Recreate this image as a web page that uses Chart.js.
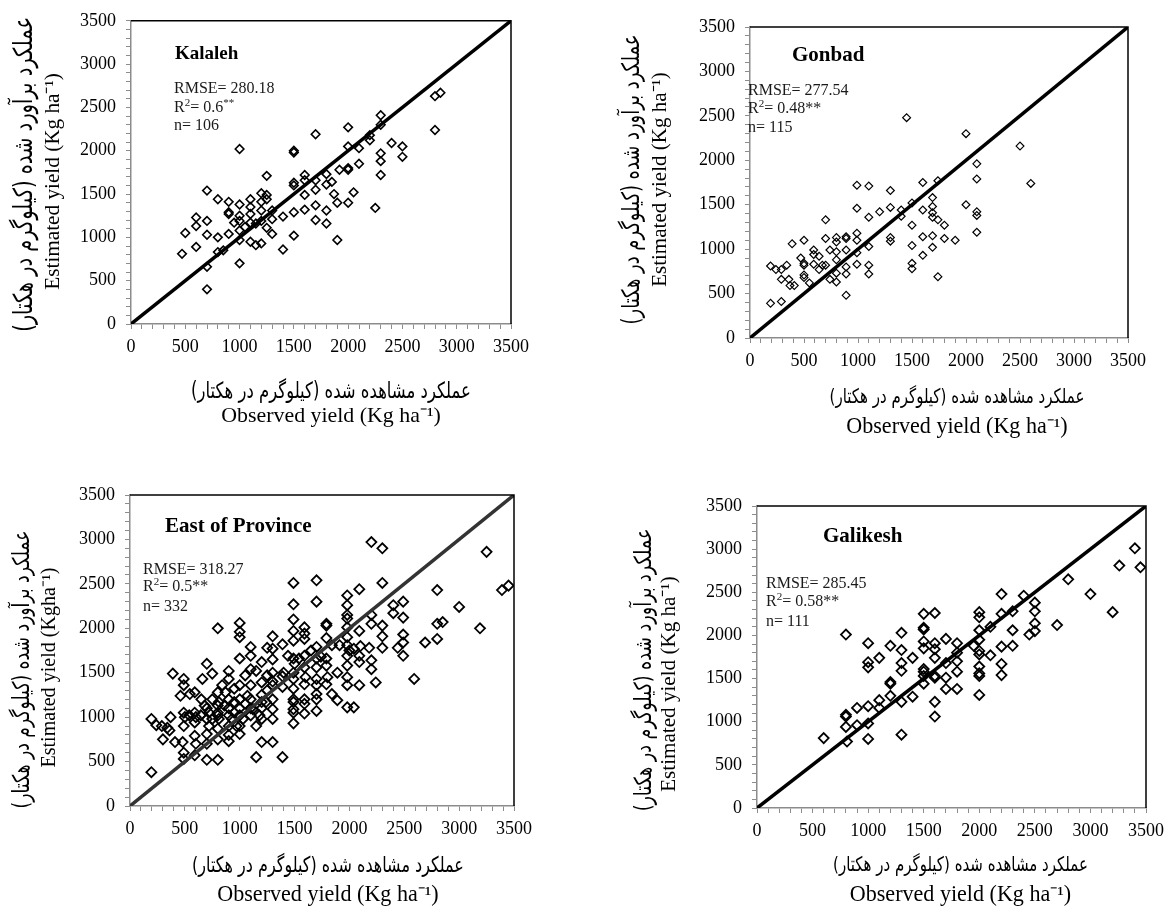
<!DOCTYPE html>
<html>
<head>
<meta charset="utf-8">
<title>Observed vs estimated yield</title>
<script src="https://cdn.jsdelivr.net/npm/chart.js@4.4.1/dist/chart.umd.min.js"></script>
<style>
  html, body { margin: 0; padding: 0; background: #fff; overflow: hidden; }
  body { width: 1165px; height: 907px; position: relative; }
  canvas { position: absolute; }
</style>
</head>
<body>
<canvas id="kalalehChart" width="560" height="440" style="left:0;top:0"></canvas>
<canvas id="gonbadChart" width="600" height="440" style="left:583px;top:0"></canvas>
<canvas id="eastChart" width="560" height="457" style="left:0;top:450px"></canvas>
<canvas id="galikeshChart" width="600" height="457" style="left:583px;top:450px"></canvas>
<script>
// Axis range and labelled tick step (kg/ha)
const axisMax = 3500;
const minorStep = 100;
const labelStep = 500;

// Kalaleh
const kalalehObs = [470, 500, 600, 600, 600, 700, 700, 700, 700, 700, 800, 800, 800, 850, 900, 900, 900, 900, 950,
  1000, 1000, 1000, 1000, 1000, 1000, 1000, 1050, 1100, 1100, 1100, 1100, 1100, 1150, 1150, 1200, 1200, 1200, 1200, 1200,
  1250, 1250, 1250, 1250, 1300, 1300, 1300, 1400, 1400, 1500, 1500, 1500, 1500, 1500, 1500, 1600, 1600, 1600, 1600,
  1700, 1700, 1700, 1700, 1700, 1800, 1800, 1800, 1800, 1850, 1870, 1900, 1900, 1920, 2000, 2000, 2000, 2000, 2000,
  2050, 2100, 2100, 2200, 2200, 2250, 2300, 2300, 2300, 2300, 2300, 2400, 2500, 2500, 2800, 2850, 2800];
const kalalehEst = [810, 1050, 890, 1230, 1130, 1540, 1190, 1030, 660, 400, 1440, 1000, 830, 850, 1410, 1290, 1270, 1040, 1170,
  2020, 1380, 1250, 1190, 1080, 970, 700, 1120, 1440, 1350, 1270, 1170, 950, 910, 1160, 1510, 1410, 1310, 1190, 930,
  1710, 1490, 1440, 1110, 1310, 1210, 1040, 1240, 860, 2000, 1980, 1630, 1600, 1290, 1020, 1720, 1660, 1490, 1320,
  2190, 1660, 1550, 1370, 1200, 1730, 1610, 1310, 1160, 1640, 1500, 1400, 970, 1780, 2270, 2050, 1800, 1780, 1400,
  1520, 2030, 1850, 2180, 2120, 1340, 2410, 2300, 1970, 1880, 1720, 2090, 2050, 1930, 2630, 2670, 2240];

// Gonbad
const gonbadObs = [190, 190, 240, 290, 290, 290, 340, 360, 370, 410, 390, 500, 470, 500, 500, 500, 500, 550, 590, 590, 590,
  640, 640, 670, 700, 700, 700, 740, 740, 800, 800, 800, 800, 800, 800, 890, 890, 890, 890, 890, 890, 990, 990, 990, 990,
  990, 990, 1100, 1100, 1100, 1100, 1100, 1200, 1300, 1300, 1300, 1300, 1400, 1400, 1450, 1500, 1500, 1500, 1500, 1500,
  1600, 1600, 1600, 1600, 1690, 1690, 1690, 1690, 1690, 1690, 1740, 1740, 1740, 1800, 1800, 1900, 2000, 2000, 2100, 2100,
  2100, 2100, 2100, 2500, 2600];
const gonbadEst = [810, 390, 770, 770, 660, 410, 820, 660, 590, 590, 1060, 1100, 900, 840, 820, 710, 680, 620, 990, 940, 830,
  920, 770, 820, 1330, 1120, 820, 990, 660, 1080, 1130, 970, 880, 730, 630, 1140, 1120, 990, 800, 720, 480, 1720, 1460, 1180, 1100,
  960, 830, 1710, 1360, 1030, 820, 720, 1420, 1660, 1470, 1130, 1090, 1440, 1370, 2480, 1520, 1270, 1040, 840, 780,
  1750, 1440, 1140, 930, 1580, 1480, 1410, 1360, 1150, 1020, 1770, 1330, 690, 1270, 1120, 1100, 2300, 1500, 1960, 1790,
  1420, 1380, 1190, 2160, 1740];

// East of Province
const eastObs = [195, 195, 240, 290, 300, 340, 370, 360, 390, 410, 490, 490, 460, 490, 490, 480, 490, 490, 545, 590, 590, 590,
  590, 590, 660, 700, 645, 680, 700, 700, 700, 750, 800, 800, 800, 800, 800, 800, 800, 750, 750, 840, 900, 900, 900, 900,
  900, 900, 950, 950, 1000, 1000, 1000, 1000, 1000, 1000, 1000, 1000, 1050, 1050, 1100, 1100, 1100, 1100, 1100, 1100,
  1150, 1150, 1150, 1200, 1200, 1200, 1200, 1200, 1250, 1250, 1250, 1300, 1300, 1300, 1300, 1300, 1300, 1300, 1300, 1300,
  1390, 1390, 1390, 1390, 1440, 1490, 1490, 1490, 1490, 1490, 1490, 1490, 1490, 1490, 1490, 1490, 1490, 1490, 1490,
  1540, 1590, 1590, 1590, 1590, 1590, 1590, 1590, 1590, 1590, 1650, 1700, 1700, 1700, 1700, 1700, 1700, 1700, 1700,
  1700, 1700, 1740, 1790, 1790, 1790, 1790, 1790, 1790, 1840, 1840, 1890, 1890, 1910, 1980, 1980, 1980, 1980, 1980,
  1980, 1980, 1980, 1980, 1980, 1980, 1980, 2040, 2040, 2090, 2090, 2090, 2090, 2090, 2180, 2200, 2200, 2200, 2200,
  2200, 2240, 2300, 2300, 2300, 2300, 2300, 2400, 2400, 2440, 2490, 2490, 2490, 2490, 2490, 2590, 2690, 2800, 2800,
  2800, 2850, 3000, 3190, 3250, 3390, 3450,
  540, 650, 720, 810, 860, 930, 970, 1030, 1070, 1120, 1180, 1240, 810, 720, 870, 950,
  500, 600, 700, 800, 900, 1000, 1100, 1200, 600, 700, 900, 1000, 1200, 1300, 1400, 1500, 1600, 1800, 2000, 2100];
const eastEst = [980, 380, 910, 900, 750, 880, 1000, 850, 1490, 720, 1430, 1360, 1240, 1050, 900, 720, 600, 530, 1260, 1280, 1050, 940,
  790, 570, 1430, 1600, 1020, 1130, 980, 810, 520, 1490, 2000, 1280, 1130, 1020, 870, 750, 520, 1200, 980, 1360, 1520, 1430, 1200, 1020,
  900, 730, 1320, 1170, 2060, 1960, 1900, 1660, 1360, 1200, 1020, 810, 1470, 1150, 1790, 1690, 1540, 1360, 1200, 1020,
  1520, 900, 550, 1620, 1390, 1170, 980, 720, 1780, 1470, 1300, 1910, 1770, 1650, 1500, 1360, 1200, 1090, 980, 720,
  1820, 1460, 1340, 550, 1690, 2510, 2270, 2100, 1970, 1860, 1660, 1500, 1430, 1320, 1200, 1170, 1090, 1050, 930,
  1660, 2010, 1940, 1880, 1690, 1560, 1370, 1200, 1150, 1040, 1750, 2540, 2300, 1790, 1660, 1560, 1430, 1360, 1260,
  1200, 1070, 1680, 2050, 2030, 1890, 1660, 1580, 1370, 1810, 1260, 1500, 1190, 1810, 2370, 2260, 2150, 2110, 2010,
  1900, 1810, 1690, 1580, 1450, 1360, 1110, 1110, 1770, 2440, 1970, 1690, 1620, 1360, 1780, 2150, 2050, 1640, 1540,
  2970, 1390, 2900, 2510, 2030, 1910, 1780, 2260, 2170, 1780, 2300, 2120, 1930, 1840, 1690, 1430, 1840, 2430, 2050,
  1880, 2070, 2240, 2000, 2860, 2430, 2480,
  1020, 1200, 1050, 980, 1130, 980, 900, 980, 1240, 1090, 1020, 1170, 1170, 900, 1280, 1050,
  1000, 1000, 1100, 1050, 1100, 1100, 1100, 1100, 700, 700, 800, 900, 1250, 1400, 1500, 1600, 1450, 1450, 1750, 1800];

// Galikesh
const galikeshObs = [600, 800, 800, 800, 800, 810, 900, 900, 1000, 1000, 1000, 1000, 1000, 1000, 1100, 1100, 1100, 1200, 1200,
  1200, 1200, 1300, 1300, 1300, 1300, 1300, 1300, 1400, 1400, 1500, 1500, 1500, 1500, 1500, 1500, 1500, 1500, 1500,
  1600, 1600, 1600, 1600, 1600, 1600, 1600, 1600, 1700, 1700, 1700, 1700, 1800, 1800, 1800, 1800, 1800, 1950, 2000,
  2000, 2000, 2000, 2000, 2000, 2000, 2000, 2000, 2000, 2100, 2100, 2200, 2200, 2200, 2200, 2200, 2300, 2300, 2300,
  2400, 2450, 2500, 2500, 2500, 2500, 2700, 2800, 3000, 3200, 3260, 3400, 3450];
const galikeshEst = [810, 2010, 1080, 1060, 940, 770, 1160, 960, 1910, 1690, 1630, 1180, 980, 800, 1740, 1250, 1160, 1880, 1460,
  1440, 1300, 2030, 1830, 1680, 1590, 1230, 850, 1740, 1290, 2250, 2090, 2070, 1930, 1850, 1610, 1580, 1530, 1440,
  2260, 1910, 1840, 1740, 1530, 1510, 1230, 1060, 1960, 1680, 1510, 1380, 1910, 1800, 1700, 1580, 1380, 1880, 2270,
  2210, 2060, 1950, 1820, 1780, 1640, 1560, 1530, 1310, 2100, 1770, 2480, 2250, 1870, 1670, 1540, 2280, 2060, 1880,
  2460, 2010, 2380, 2280, 2140, 2050, 2120, 2650, 2480, 2270, 2810, 3010, 2790];

const serif = "'Liberation Serif', 'Times New Roman', serif";
const persianFont = "'DejaVu Sans', sans-serif";

const faObserved = 'عملکرد مشاهده شده (کیلوگرم در هکتار)';
const faEstimated = 'عملکرد برآورد شده (کیلوگرم در هکتار)';
const enObserved = 'Observed yield (Kg ha\u207B\u00B9)';
const enEstimated = 'Estimated yield (Kg ha\u207B\u00B9)';

// Panel placement (page px) and per-panel text settings
const panels = [
    {
        id: 'kalalehChart', obs: kalalehObs, est: kalalehEst,
        box: { x: 0, y: 0, w: 560, h: 440 }, area: { l: 131, t: 20, r: 511, b: 324 },
        marker: 4.3, markerWidth: 1.6, lineColor: '#000',
        text: {
            title: 'Kalaleh', titleSize: 19, titlePos: [44, 33], stats: [43, 68, 87, 105],
            rmse: '280.18', r2: '0.6', starsSup: true, n: 106,
            yTitle: [faEstimated, enEstimated], yTitleX: [-106, -78], yTitleDy: [2, 9], yTitleW: [315, 217],
            xTitleDy: [68, 92], xTitleShift: 10, xTitleW: [280, 220]
        }
    },
    {
        id: 'gonbadChart', obs: gonbadObs, est: gonbadEst,
        box: { x: 583, y: 0, w: 600, h: 440 }, area: { l: 750, t: 27, r: 1128, b: 338 },
        marker: 3.9, markerWidth: 1.2, lineColor: '#000',
        text: {
            title: 'Gonbad', titleSize: 21, titlePos: [42, 29], stats: [-2, 64, 82, 101],
            rmse: '277.54', r2: '0.48', starsSup: false, n: 115,
            yTitle: [faEstimated, enEstimated], yTitleX: [-117, -90], yTitleDy: [-3, -3], yTitleW: [290, 215],
            xTitleDy: [60, 89], xTitleShift: 18, xTitleW: [255, 222]
        }
    },
    {
        id: 'eastChart', obs: eastObs, est: eastEst,
        box: { x: 0, y: 450, w: 560, h: 457 }, area: { l: 130, t: 495, r: 514, b: 806 },
        marker: 5, markerWidth: 1.8, lineColor: '#333',
        text: {
            title: 'East of Province', titleSize: 21, titlePos: [35, 32], stats: [13, 75, 92, 112],
            rmse: '318.27', r2: '0.5', starsSup: false, n: 332,
            yTitle: [faEstimated, 'Estimated yield (Kgha\u207B\u00B9)'], yTitleX: [-107, -80], yTitleDy: [19, 17], yTitleW: [278, 200],
            xTitleDy: [60, 89], xTitleShift: 6, xTitleW: [272, 222]
        }
    },
    {
        id: 'galikeshChart', obs: galikeshObs, est: galikeshEst,
        box: { x: 583, y: 450, w: 600, h: 457 }, area: { l: 757, t: 506, r: 1146, b: 808 },
        marker: 5, markerWidth: 1.8, lineColor: '#000',
        text: {
            title: 'Galikesh', titleSize: 21, titlePos: [66, 31], stats: [9, 78, 96, 116],
            rmse: '285.45', r2: '0.58', starsSup: false, n: 111,
            yTitle: [faEstimated, enEstimated], yTitleX: [-112, -88], yTitleDy: [13, 27], yTitleW: [283, 216],
            xTitleDy: [58, 87], xTitleShift: 9, xTitleW: [255, 222]
        }
    }
];

// The Persian glyphs of the original font are taller than DejaVu's
const persianStretch = 1.35;

// Font size that makes a string a given width
function fitSize(ctx, text, family, width) {
    ctx.font = `100px ${family}`;
    return 100 * width / ctx.measureText(text).width;
}

// Draw a run of text and return the x where it ends
function drawRun(ctx, text, x, y, size, rise) {
    ctx.font = `${size}px ${serif}`;
    ctx.fillText(text, x, y + rise);
    return x + ctx.measureText(text).width;
}

// Persian line centred on (x, y), optionally rotated
function drawPersian(ctx, text, x, y, width, rotated) {
    ctx.save();
    ctx.translate(x, y);
    if (rotated) ctx.rotate(-Math.PI / 2);
    ctx.scale(1, persianStretch);
    ctx.direction = 'rtl';
    ctx.textAlign = 'center';
    ctx.textBaseline = 'middle';
    ctx.font = `${fitSize(ctx, text, persianFont, width)}px ${persianFont}`;
    ctx.fillText(text, 0, 0);
    ctx.restore();
}

// Frame, panel name, statistics and axis titles
const panelText = {
    id: 'panelText',
    afterDraw(chart, args, o) {
        const { ctx, chartArea: a } = chart;
        ctx.save();

        ctx.strokeStyle = '#000';
        ctx.lineWidth = 1.5;
        ctx.beginPath();
        ctx.moveTo(a.left, a.top);
        ctx.lineTo(a.right, a.top);
        ctx.lineTo(a.right, a.bottom);
        ctx.stroke();

        ctx.fillStyle = '#000';
        ctx.textBaseline = 'middle';
        ctx.textAlign = 'left';
        ctx.font = `bold ${o.titleSize}px ${serif}`;
        ctx.fillText(o.title, a.left + o.titlePos[0], a.top + o.titlePos[1]);

        ctx.fillStyle = '#1a1a1a';
        const sx = a.left + o.stats[0];
        drawRun(ctx, `RMSE= ${o.rmse}`, sx, a.top + o.stats[1], 16, 0);
        const y2 = a.top + o.stats[2];
        let x = drawRun(ctx, 'R', sx, y2, 16, 0);
        x = drawRun(ctx, '2', x, y2, 11, -5);
        x = drawRun(ctx, `= ${o.r2}`, x, y2, 16, 0);
        if (o.starsSup) {
            drawRun(ctx, '**', x, y2, 11, -5);
        } else {
            drawRun(ctx, '**', x, y2, 16, 0);
        }
        drawRun(ctx, `n= ${o.n}`, sx, a.top + o.stats[3], 16, 0);

        // x axis title: Persian line, then English line
        ctx.fillStyle = '#000';
        const cx = (a.left + a.right) / 2 + o.xTitleShift;
        drawPersian(ctx, faObserved, cx, a.bottom + o.xTitleDy[0], o.xTitleW[0], false);
        ctx.textAlign = 'center';
        ctx.direction = 'ltr';
        ctx.font = `${fitSize(ctx, enObserved, serif, o.xTitleW[1])}px ${serif}`;
        ctx.fillText(enObserved, cx, a.bottom + o.xTitleDy[1]);

        // y axis title, rotated
        const midY = (a.top + a.bottom) / 2;
        drawPersian(ctx, o.yTitle[0], a.left + o.yTitleX[0], midY + o.yTitleDy[0], o.yTitleW[0], true);
        ctx.save();
        ctx.translate(a.left + o.yTitleX[1], midY + o.yTitleDy[1]);
        ctx.rotate(-Math.PI / 2);
        ctx.font = `${fitSize(ctx, o.yTitle[1], serif, o.yTitleW[1])}px ${serif}`;
        ctx.fillText(o.yTitle[1], 0, 0);
        ctx.restore();

        ctx.restore();
    }
};

function axisOptions(fitFn) {
    return {
        type: 'linear',
        min: 0,
        max: axisMax,
        afterFit: fitFn,
        ticks: {
            stepSize: minorStep,
            autoSkip: false,
            maxRotation: 0,
            padding: 7,
            color: '#000',
            font: { family: serif, size: 18 },
            callback: v => Math.round(v) % labelStep === 0 ? Math.round(v) : ''
        },
        grid: { drawOnChartArea: false, tickLength: 5, color: '#8c8c8c' },
        border: { color: '#8c8c8c', width: 1.5 }
    };
}

function buildChart(p) {
    const ctx = document.getElementById(p.id).getContext('2d');
    const points = p.obs.map((v, i) => ({ x: v, y: p.est[i] }));

    const xAxis = axisOptions(s => { s.height = p.box.y + p.box.h - p.area.b; });
    const yAxis = axisOptions(s => { s.width = p.area.l - p.box.x; });
    yAxis.ticks.padding = 10;

    return new Chart(ctx, {
        type: 'scatter',
        data: {
            datasets: [
                {
                    // 1:1 line
                    data: [{ x: 0, y: 0 }, { x: axisMax, y: axisMax }],
                    showLine: true,
                    borderColor: p.lineColor,
                    borderWidth: 3.5,
                    pointRadius: 0,
                    order: 0
                },
                {
                    data: points,
                    pointStyle: 'rectRot',
                    pointRadius: p.marker,
                    pointBorderWidth: p.markerWidth,
                    pointBorderColor: '#000',
                    pointBackgroundColor: 'rgba(0,0,0,0)',
                    order: 1
                }
            ]
        },
        options: {
            responsive: false,
            animation: false,
            layout: {
                padding: {
                    top: p.area.t - p.box.y,
                    right: p.box.x + p.box.w - p.area.r,
                    left: 0,
                    bottom: 0
                }
            },
            plugins: {
                legend: { display: false },
                tooltip: { enabled: false },
                panelText: p.text
            },
            scales: { x: xAxis, y: yAxis }
        },
        plugins: [panelText]
    });
}

panels.forEach(buildChart);
</script>
</body>
</html>
